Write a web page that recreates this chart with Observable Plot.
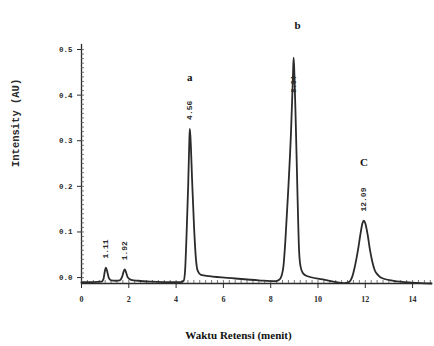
<!DOCTYPE html>
<html>
<head>
<meta charset="utf-8">
<script src="https://cdn.jsdelivr.net/npm/d3@7"></script>
<script src="https://cdn.jsdelivr.net/npm/@observablehq/plot@0.6"></script>
<style>
  html, body { margin: 0; padding: 0; background: #fff; }
  #chart { width: 434px; height: 346px; }
</style>
</head>
<body>
<div id="chart"></div>
<script>
// Chromatogram trace (retention time in minutes, intensity in AU)
const traceTime = [0, 0.5, 0.85, 0.93, 0.98, 1.03, 1.08, 1.15, 1.25, 1.45, 1.62, 1.72, 1.78, 1.83, 1.88, 1.96, 2.1, 2.4, 3.0, 3.6,
  4.2, 4.32, 4.38, 4.44, 4.51, 4.56, 4.58, 4.61, 4.68, 4.76, 4.84, 4.92, 5.05, 5.4, 6.5, 7.5,
  8.2, 8.36, 8.46, 8.54, 8.62, 8.74, 8.86, 8.94, 8.97, 9.0, 9.06, 9.13, 9.2, 9.26, 9.36, 9.5, 10.2,
  11.1, 11.3, 11.45, 11.55, 11.69, 11.8, 11.88, 11.94, 12.0, 12.1, 12.2, 12.3, 12.4, 12.55, 12.75, 13.2, 14.0, 14.8];
const traceIntensity = [-0.010, -0.010, -0.009, -0.003, 0.012, 0.022, 0.015, 0.000, -0.006, -0.007, -0.006, 0.002, 0.013, 0.018, 0.012, 0.000, -0.005, -0.007, -0.009, -0.010,
  -0.010, -0.007, 0.015, 0.09, 0.20, 0.30, 0.326, 0.305, 0.21, 0.11, 0.04, 0.014, 0.006, 0.003, -0.002, -0.006,
  -0.008, -0.005, 0.004, 0.025, 0.08, 0.19, 0.32, 0.44, 0.482, 0.45, 0.34, 0.19, 0.06, 0.025, 0.010, 0.004, -0.004,
  -0.012, -0.010, 0.002, 0.022, 0.060, 0.097, 0.119, 0.125, 0.119, 0.094, 0.060, 0.034, 0.016, 0.005, -0.002, -0.007, -0.011, -0.013];

// Peak annotations
const peakTime = [1.03, 1.83, 4.58, 8.97, 11.94];
const peakHeight = [0.022, 0.018, 0.326, 0.482, 0.125];
const peakLabel = ["1.11", "1.92", "4.56", "8.94", "12.09"];
const peakName = [null, null, "a", "b", "C"];

// Axis ticks
const xTicks = [0, 2, 4, 6, 8, 10, 12, 14];
const yTicks = [0.0, 0.1, 0.2, 0.3, 0.4, 0.5];
const xMinorTicks = d3.range(0, 14.81, 0.25);
const yMinorTicks = d3.range(0, 0.505, 0.01);

const xTitle = "Waktu Retensi (menit)";
const yTitle = "Intensity (AU)";

const trace = traceTime.map((t, i) => ({t, v: traceIntensity[i]}));
const peaks = peakTime.map((t, i) => ({t, h: peakHeight[i], label: peakLabel[i], name: peakName[i]}));

const mono = "'Liberation Mono', 'DejaVu Sans Mono', monospace";
const serif = "'Liberation Serif', 'DejaVu Serif', serif";
const ink = "#2b2b2b";

const chart = Plot.plot({
  width: 434,
  height: 346,
  marginLeft: 81,
  marginRight: 3,
  marginTop: 44,
  marginBottom: 63,
  style: {background: "#fff", color: ink},
  x: {domain: [0, 14.8]},
  y: {domain: [-0.013, 0.511]},
  marks: [
    // axis lines
    Plot.frame({anchor: "left", stroke: ink, strokeWidth: 1.3}),
    Plot.frame({anchor: "bottom", stroke: ink, strokeWidth: 1.3}),
    // minor ticks
    Plot.axisY({ticks: yMinorTicks, tickSize: -3, text: null, label: null, stroke: "#555", strokeWidth: 0.8}),
    Plot.axisX({ticks: xMinorTicks, tickSize: -3, text: null, label: null, stroke: "#555", strokeWidth: 0.8}),
    // major ticks
    Plot.axisY({ticks: yTicks, tickSize: 4, tickPadding: 5, tickFormat: d => d.toFixed(1), label: null,
      fontFamily: mono, fontSize: 7.5, fontWeight: "bold", stroke: ink}),
    Plot.axisX({ticks: xTicks, tickSize: 5, tickPadding: 8, tickFormat: d => String(d), label: null,
      fontFamily: serif, fontSize: 8, fontWeight: "bold", stroke: ink}),
    // axis titles
    Plot.text([yTitle], {frameAnchor: "left", rotate: -90, dx: -66, dy: 3, text: d => d,
      fontFamily: mono, fontSize: 10.5, fontWeight: "bold", fill: ink}),
    Plot.text([xTitle], {frameAnchor: "bottom", dx: -18, dy: 55, text: d => d,
      fontFamily: serif, fontSize: 11, fontWeight: "bold", fill: "#111"}),
    // trace
    Plot.line(trace, {x: "t", y: "v", curve: "monotone-x", stroke: ink, strokeWidth: 1.8}),
    // retention-time labels (rotated)
    Plot.text(peaks.filter(d => d.name !== "b"), {x: "t", y: "h", text: "label", rotate: -90, textAnchor: "start",
      dy: -9, fontFamily: mono, fontSize: 8, fontWeight: "bold", fill: ink}),
    Plot.text(peaks.filter(d => d.name === "b"), {x: "t", y: "h", text: "label", rotate: -90, textAnchor: "start",
      dy: 35, fontFamily: mono, fontSize: 7, fontWeight: "bold", fill: ink}),
    // peak names
    Plot.text(peaks.filter(d => d.name === "a"), {x: "t", y: "h", text: "name", dy: -51,
      fontFamily: serif, fontSize: 11, fontWeight: "bold", fill: "#111"}),
    Plot.text(peaks.filter(d => d.name === "b"), {x: "t", y: "h", text: "name", dy: -32, dx: 4,
      fontFamily: serif, fontSize: 11, fontWeight: "bold", fill: "#111"}),
    Plot.text(peaks.filter(d => d.name === "C"), {x: "t", y: "h", text: "name", dy: -58,
      fontFamily: serif, fontSize: 11, fontWeight: "bold", fill: "#111"})
  ]
});
document.getElementById("chart").appendChild(chart);
</script>
</body>
</html>
